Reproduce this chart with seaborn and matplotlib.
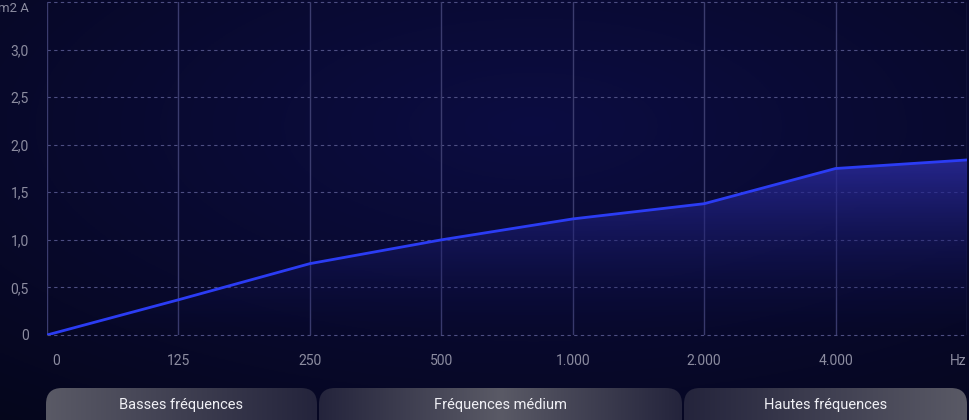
import numpy as np
import pandas as pd
import seaborn as sns
import matplotlib.pyplot as plt
from matplotlib.patches import FancyBboxPatch, Polygon
from matplotlib.colors import LinearSegmentedColormap
import matplotlib.transforms as mtransforms

# data
freq_labels = ["0", "125", "250", "500", "1.000", "2.000", "4.000", "Hz"]
absorption = [0.0, 0.37, 0.75, 1.0, 1.22, 1.38, 1.75, 1.84]
y_ticks = [0, 0.5, 1.0, 1.5, 2.0, 2.5, 3.0, 3.5]
y_labels = ["0", "0,5", "1,0", "1,5", "2,0", "2,5", "3,0", "m2 A"]
band_names = ["Basses fréquences", "Fréquences médium", "Hautes fréquences"]

df = pd.DataFrame({"freq": freq_labels, "value": absorption})

sns.set_theme(style="dark")
plt.rcParams["font.family"] = ["Roboto", "DejaVu Sans"]

W, H = 970, 420
fig = plt.figure(figsize=(W / 100, H / 100), dpi=100)
fig.patch.set_facecolor("#07082a")

# background gradient
bg = fig.add_axes([0, 0, 1, 1])
bg.set_xlim(0, W)
bg.set_ylim(H, 0)
bg.axis("off")
yy, xx = np.mgrid[0:1:200j, 0:1:400j]
glow = np.clip(1 - np.sqrt(((xx - 0.55) / 0.9) ** 2 + ((yy - 0.3) / 0.9) ** 2), 0, 1)
c0 = np.array([5, 6, 28]) / 255
c1 = np.array([12, 13, 66]) / 255
img = c0 + (c1 - c0) * glow[..., None]
bg.imshow(img, extent=[0, W, H, 0], aspect="auto", zorder=0)

# frequency band pills (1 = light, 0 = dark)
pills = [(45, 273, [1.0, 0.0]), (318, 365, [0.0, 1.0, 0.0]), (683, 285, [0.0, 1.0])]
light = np.array([90, 90, 102]) / 255
dark = np.array([36, 36, 60]) / 255
for (x0, w, stops), name in zip(pills, band_names):
    patch = FancyBboxPatch((x0 + 1, 388), w - 2, 50,
                           boxstyle="round,pad=0,rounding_size=16",
                           facecolor="none", edgecolor="none")
    bg.add_patch(patch)
    t = np.linspace(0, 1, 200)
    vals = np.interp(t, np.linspace(0, 1, len(stops)), stops)
    grad = dark + (light - dark) * vals[:, None]
    im = bg.imshow(grad[None, :, :], extent=[x0, x0 + w, 438, 388], aspect="auto", zorder=1)
    im.set_clip_path(patch)
    bg.text(x0 + w / 2, 405, name, color="#f0f0f5", fontsize=10.5,
            ha="center", va="center", zorder=2)

# main chart
ax = fig.add_axes([47 / W, 85 / H, 920 / W, 333 / H])
ax.set_facecolor("none")
xpos = np.arange(len(freq_labels))

for y in y_ticks:
    ax.axhline(y, color="#4d4e82", lw=0.8, ls=(0, (3, 3)), zorder=1, clip_on=False)
for x in xpos:
    ax.axvline(x, color="#3b3c6e", lw=1, zorder=1)

# gradient fill under curve
poly = Polygon(np.column_stack([np.r_[xpos, xpos[::-1]], np.r_[absorption, np.zeros(len(xpos))]]),
               closed=True, facecolor="none", edgecolor="none")
ax.add_patch(poly)
fill_cmap = LinearSegmentedColormap.from_list(
    "fill", [(0.05, 0.06, 0.27, 0.0), (0.17, 0.17, 0.62, 0.85)])
grad = np.linspace(0, 1, 256)[:, None]
fim = ax.imshow(grad, cmap=fill_cmap, extent=[0, len(xpos) - 1, 0, max(absorption)],
                origin="lower", aspect="auto", zorder=2)
fim.set_clip_path(poly)

sns.lineplot(data=df, x="freq", y="value", sort=False, color="#2b3cf4",
             lw=2, ax=ax, zorder=3)

ax.set_xlim(0, len(xpos) - 1)
ax.set_ylim(0, 3.5)
ax.set_xlabel("")
ax.set_ylabel("")
for s in ax.spines.values():
    s.set_visible(False)

ax.set_yticks(y_ticks)
ax.set_yticklabels(y_labels)
ax.set_xticks(xpos)
ax.set_xticklabels(freq_labels)
ax.tick_params(axis="y", colors="#8c8ca0", labelsize=10, length=0, pad=13)
ax.tick_params(axis="x", colors="#8c8ca0", labelsize=10, length=0, pad=14)
xt = ax.get_xticklabels()
xt[0].set_ha("left")
xt[0].set_transform(xt[0].get_transform() + mtransforms.ScaledTranslation(5 / 100, 0, fig.dpi_scale_trans))
xt[-1].set_ha("right")
top_lbl = ax.get_yticklabels()[-1]
top_lbl.set_va("top")
top_lbl.set_fontsize(9.5)

fig.savefig("out.png", dpi=100, facecolor=fig.get_facecolor())
